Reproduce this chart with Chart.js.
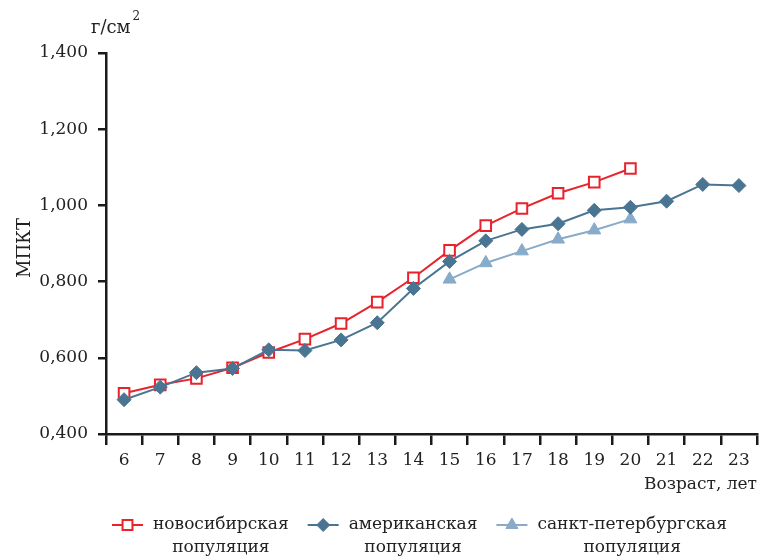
<!DOCTYPE html>
<html>
<head>
<meta charset="utf-8">
<script src="https://cdn.jsdelivr.net/npm/chart.js@4.4.1/dist/chart.umd.min.js"></script>
<style>
  html, body { margin: 0; padding: 0; background: #fff; }
  #wrap { width: 762px; height: 557px; }
</style>
</head>
<body>
<div id="wrap"><canvas id="grafico" width="762" height="557"></canvas></div>
<script>
const idades = ['6', '7', '8', '9', '10', '11', '12', '13', '14', '15', '16', '17', '18', '19', '20', '21', '22', '23'];

const novosibirsk = [0.507, 0.529, 0.546, 0.574, 0.614, 0.649, 0.690, 0.746, 0.810, 0.882, 0.947, 0.992, 1.032, 1.061, 1.097, null, null, null];
const americana = [0.490, 0.523, 0.561, 0.572, 0.621, 0.619, 0.647, 0.692, 0.782, 0.853, 0.907, 0.937, 0.952, 0.987, 0.995, 1.011, 1.055, 1.052];
const petersburg = [null, null, null, null, null, null, null, null, null, 0.806, 0.849, 0.880, 0.911, 0.935, 0.964, null, null, null];

const nomes = ['новосибирская', 'американская', 'санкт-петербургская'];

const fonte = '"DejaVu Serif", serif';
const vermelho = '#e8232c';
const azul = '#4a7592';
const azulClaro = '#87abc8';

// titulos e legenda desenhados a mao (legenda tem duas linhas)
const extras = {
  id: 'extras',
  afterDraw(chart) {
    const c = chart.ctx;
    c.save();
    c.fillStyle = '#222';
    c.textBaseline = 'alphabetic';

    // unidade
    c.font = '18px ' + fonte;
    c.textAlign = 'left';
    c.fillText('г/см', 91, 33);
    const w = c.measureText('г/см').width;
    c.font = '12px ' + fonte;
    c.fillText('2', 91 + w + 2, 20);

    // titulo y
    c.save();
    c.translate(25, 248);
    c.rotate(-Math.PI / 2);
    c.font = '18px ' + fonte;
    c.textAlign = 'center';
    c.textBaseline = 'middle';
    c.fillText('МПКТ', 0, 0);
    c.restore();

    // titulo x
    c.font = '17px ' + fonte;
    c.textAlign = 'right';
    c.textBaseline = 'middle';
    c.fillText('Возраст, лет', 757, 485);

    // legenda
    const ds = chart.data.datasets;
    let x = 112;
    const y = 525;
    c.font = '17px ' + fonte;
    for (let i = 0; i < ds.length; i++) {
      const d = ds[i];
      c.strokeStyle = d.borderColor;
      c.lineWidth = 2;
      c.beginPath();
      c.moveTo(x, y);
      c.lineTo(x + 31, y);
      c.stroke();
      c.fillStyle = d.pointBackgroundColor;
      c.strokeStyle = d.pointBorderColor;
      c.lineWidth = d.pointBorderWidth;
      Chart.helpers.drawPoint(c, {
        pointStyle: d.pointStyle,
        radius: d.pointRadius - 0.5,
        rotation: 0,
        borderWidth: d.pointBorderWidth
      }, x + 15.5, y);
      const tx = x + 41;
      const tw = c.measureText(nomes[i]).width;
      c.fillStyle = '#222';
      c.textAlign = 'left';
      c.fillText(nomes[i], tx, y);
      c.textAlign = 'center';
      c.fillText('популяция', tx + tw / 2, y + 23);
      x = tx + tw + 19;
    }
    c.restore();
  }
};

const ctx = document.getElementById('grafico').getContext('2d');

const grafico = new Chart(ctx, {
  type: 'line',
  data: {
    labels: idades,
    datasets: [{
      label: nomes[0],
      data: novosibirsk,
      borderColor: vermelho,
      backgroundColor: '#fff',
      borderWidth: 2,
      pointStyle: 'rect',
      pointRadius: 7.5,
      pointBackgroundColor: '#fff',
      pointBorderColor: vermelho,
      pointBorderWidth: 2,
      order: 1
    }, {
      label: nomes[1],
      data: americana,
      borderColor: azul,
      backgroundColor: azul,
      borderWidth: 2,
      pointStyle: 'rectRot',
      pointRadius: 7,
      pointBackgroundColor: azul,
      pointBorderColor: azul,
      pointBorderWidth: 1,
      order: 0
    }, {
      label: nomes[2],
      data: petersburg,
      borderColor: azulClaro,
      backgroundColor: azulClaro,
      borderWidth: 2,
      pointStyle: 'triangle',
      pointRadius: 7.5,
      pointBackgroundColor: azulClaro,
      pointBorderColor: azulClaro,
      pointBorderWidth: 1,
      order: 2
    }]
  },
  options: {
    responsive: false,
    animation: false,
    clip: false,
    spanGaps: false,
    layout: { autoPadding: false, padding: { top: 53, right: 5, left: 0, bottom: 0 } },
    plugins: {
      legend: { display: false },
      tooltip: { enabled: false }
    },
    scales: {
      x: {
        offset: true,
        afterFit(scale) {
          scale.height = 123;
          scale.paddingLeft = 0;
          scale.paddingRight = 0;
        },
        border: { display: true, color: '#1a1a1a', width: 2.5 },
        grid: {
          display: true,
          offset: true,
          drawOnChartArea: false,
          drawTicks: true,
          tickLength: 11,
          color: '#1a1a1a',
          lineWidth: 2.5
        },
        ticks: {
          color: '#222',
          font: { family: fonte, size: 17 },
          padding: 5,
          maxRotation: 0,
          autoSkip: false
        }
      },
      y: {
        min: 0.4,
        max: 1.4,
        afterFit(scale) { scale.width = 106; },
        border: { display: true, color: '#1a1a1a', width: 2.5 },
        grid: {
          display: true,
          drawOnChartArea: false,
          drawTicks: true,
          tickLength: 8,
          color: '#1a1a1a',
          lineWidth: 2.5
        },
        ticks: {
          stepSize: 0.2,
          color: '#222',
          font: { family: fonte, size: 17 },
          padding: 10,
          callback: v => v.toFixed(3).replace('.', ',')
        }
      }
    }
  },
  plugins: [extras]
});
</script>
</body>
</html>
